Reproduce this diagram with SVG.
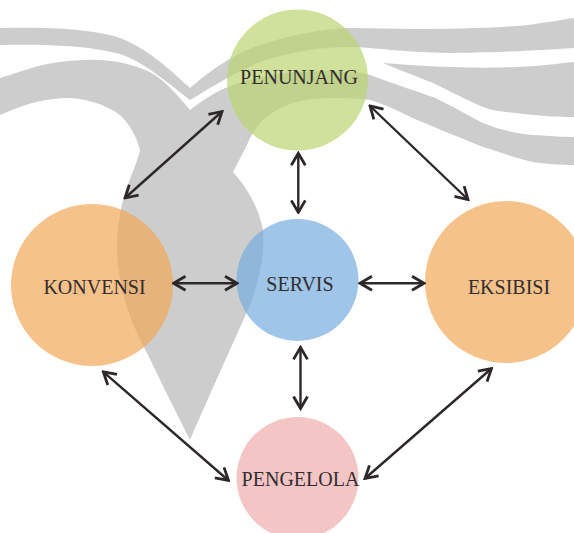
<svg xmlns="http://www.w3.org/2000/svg" width="574" height="533" viewBox="0 0 574 533">
  <defs>
    <style>
      .wm { fill: #cdcdcd; stroke: none; }
      .node { fill-opacity: 0.7; stroke: none; }
      .lbl { font-family: "Liberation Serif", "Times New Roman", serif; font-size: 20px; fill: #332d2e; text-anchor: middle; }
      .conn { stroke: #2d2828; stroke-width: 2.4; fill: none; marker-start: url(#head); marker-end: url(#head); }
    </style>
    <marker id="head" viewBox="-15 -10 17 20" refX="0" refY="0" markerWidth="17" markerHeight="20" markerUnits="userSpaceOnUse" orient="auto-start-reverse">
      <path d="M -12,-7 L 0,0 L -12,7" fill="none" stroke="#2d2828" stroke-width="2.8" stroke-linejoin="miter"/>
    </marker>
  </defs>

  <g id="watermark">
    <path class="wm" d="M0,28 C40,27 90,28 120,38 C150,50 170,70 190,88 C205,75 230,55 260,45 C290,35 320,29 350,28 C400,29 450,30 517,26 C540,24 560,20 574,18 L574,48 C540,50 517,52 450,53 C400,52 370,47 350,47 C320,47 290,52 260,62 C235,72 210,88 190,100 C170,85 145,62 120,54 C90,46 50,44 0,45 Z"/>
    <path class="wm" d="M383,63 C420,66 470,69 517,67 C545,66 560,63 574,62 L574,117 C555,117 545,116 533,115 C510,112 495,112 483,107 C460,97 440,86 433,83 C410,74 395,68 383,63 Z"/>
    <path class="wm" d="M0,78 C20,72 40,64 60,62 C90,58 120,58 150,72 C165,80 180,98 190,110 C200,102 212,94 225,88 C250,78 285,71 320,71 C345,71 360,72 370,75 C395,84 415,91 433,97 C455,107 470,117 483,123 C500,130 518,134 533,135 C550,136 565,137 574,137 L574,165 C560,165 545,164 533,162 C515,158 500,152 483,147 C460,138 437,128 417,120 C400,112 385,104 370,100 C340,97 310,97 290,104 C268,112 255,125 247,145 L233,172 C245,185 258,205 263,230 C265,255 258,285 250,305 C230,350 205,405 190,440 C175,410 160,380 148,355 C132,325 122,300 118,265 C115,235 120,205 128,185 C133,170 138,160 140,150 C136,135 130,125 120,115 C105,104 85,98 65,98 C40,99 20,106 0,115 Z"/>
  </g>

  <g id="node-penunjang">
    <circle class="node" cx="297.5" cy="80" r="70.5" fill="#bad46f"/>
    <text class="lbl" x="299" y="84">PENUNJANG</text>
  </g>
  <g id="node-konvensi">
    <circle class="node" cx="92" cy="285" r="81" fill="#f1a858"/>
    <text class="lbl" x="94.5" y="294">KONVENSI</text>
  </g>
  <g id="node-servis">
    <circle class="node" cx="297.5" cy="280" r="61" fill="#76acde"/>
    <text class="lbl" x="300" y="290.5">SERVIS</text>
  </g>
  <g id="node-eksibisi">
    <circle class="node" cx="506" cy="282" r="81" fill="#f1a858"/>
    <text class="lbl" x="509" y="294">EKSIBISI</text>
  </g>
  <g id="node-pengelola">
    <circle class="node" cx="297.5" cy="478" r="61" fill="#efadad"/>
    <text class="lbl" x="300.5" y="486">PENGELOLA</text>
  </g>

  <g id="connectors">
    <line class="conn" x1="222" y1="111.5" x2="125" y2="198"/>
    <line class="conn" x1="370" y1="106" x2="468" y2="199.5"/>
    <line class="conn" x1="298.3" y1="153.3" x2="298.3" y2="212.4"/>
    <line class="conn" x1="173.5" y1="283.3" x2="237" y2="283.3"/>
    <line class="conn" x1="360" y1="283.3" x2="424" y2="283.3"/>
    <line class="conn" x1="300.5" y1="347.4" x2="300.5" y2="408.5"/>
    <line class="conn" x1="103.3" y1="371.8" x2="228.5" y2="480.5"/>
    <line class="conn" x1="491.5" y1="368.5" x2="365" y2="478.5"/>
  </g>
</svg>
